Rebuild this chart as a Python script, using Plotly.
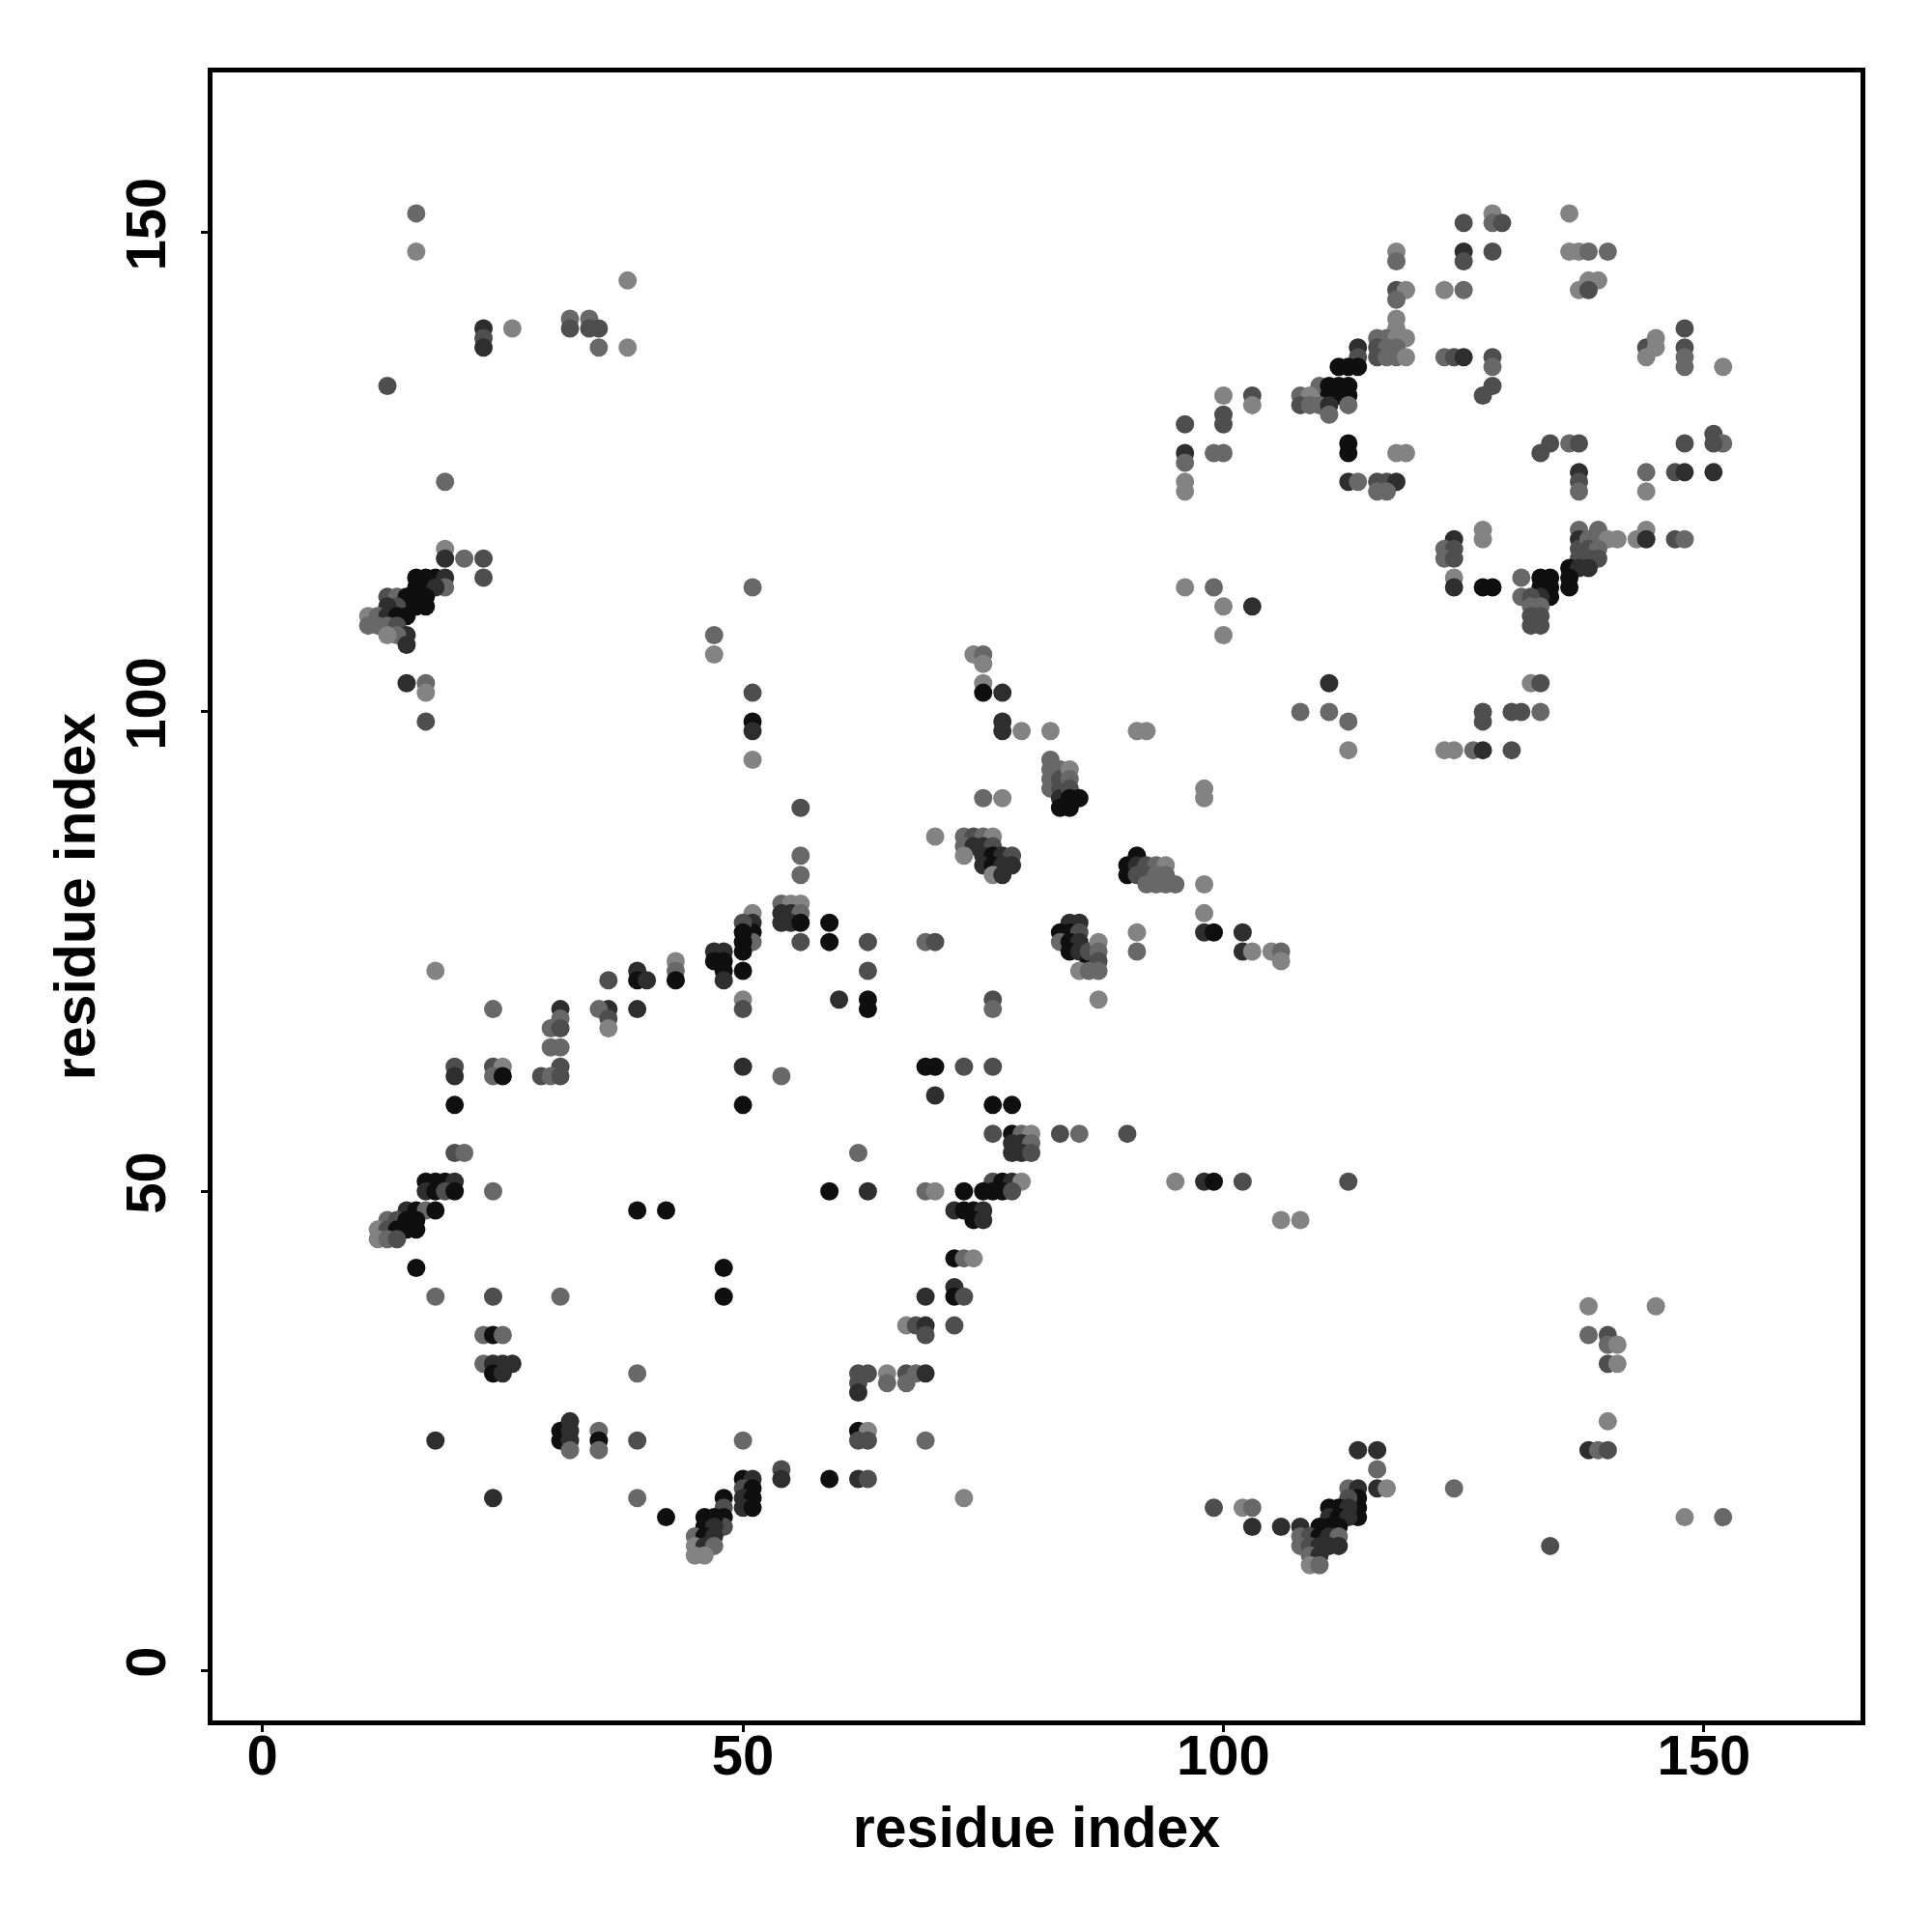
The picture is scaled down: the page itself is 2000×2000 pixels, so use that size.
import plotly.graph_objects as go

# contact points: residue i (x), residue j (y), and shade level
# level codes: k=black, d=dark, m=medium, g=gray, l=light
res_i = []
res_j = []
level = []

pts = """
16,152,g 16,148,l 38,145,l 23,140,d 23,139,m 23,138,d 26,140,l 32,141,g 32,140,m 34,141,g 34,140,m 35,140,m 35,138,g 38,138,l
13,134,m 19,124,g 19,117,l 19,116,d 21,116,g 23,116,m 23,114,m
16,114,k 17,114,k 18,114,k 19,114,d 19,113,g 16,113,k 17,113,k 18,113,d 13,112,m 14,112,g 15,112,k 16,112,k 17,112,k 17,111,k 15,111,k 16,111,k 14,111,m 13,111,d
11,110,l 12,110,g 13,110,d 14,110,k 15,110,k 11,109,g 12,109,g 13,109,g 14,109,m 15,108,d 14,108,g 13,108,l 15,107,d
15,103,d 17,103,g 17,102,l 17,99,m
47,108,g 47,106,l 51,113,g 51,102,m 51,99,k 51,98,d 51,95,l 56,90,m 56,85,g 56,83,g
54,80,g 55,80,l 56,80,l 54,79,d 55,79,d 56,79,g 54,78,d 55,78,d 56,78,k 56,76,m
51,79,l 51,78,d 51,77,k 51,76,g 50,78,m 50,77,k 50,76,k 50,75,k 50,73,k
47,75,d 48,75,d 47,74,k 48,74,k 48,73,k 48,72,d 43,74,l 43,73,g 43,72,k 39,73,d 39,72,k 40,72,d 36,72,m
50,70,l 50,69,m 36,69,d 35,69,g 36,68,m 36,67,l 39,69,d
31,69,d 31,68,g 30,67,g 31,67,m 30,65,g 31,65,g 31,63,m 29,62,m 30,62,g 31,62,m
24,69,g 18,73,l 20,63,m 20,62,d 20,59,k 24,63,m 25,63,l 24,62,g 25,62,k 50,63,d 50,59,k 54,62,g
20,54,m 21,54,g 17,51,k 18,51,k 19,51,k 20,51,d 17,50,d 18,50,k 19,50,m 20,50,k 24,50,g
15,48,d 16,48,k 17,48,g 18,48,k 13,47,g 14,47,m 15,47,k 16,47,k 12,46,l 13,46,m 14,46,k 15,46,k 16,46,k 12,45,l 13,45,g 14,45,m
16,42,k 18,39,g 24,39,m 31,39,g 39,48,k 42,48,k 48,42,k 48,39,k
23,35,g 24,35,k 25,35,g 23,32,g 24,32,d 25,32,d 26,32,d 24,31,k 25,31,d 39,31,g
18,24,d 24,18,d 31,25,k 31,24,k 32,26,d 32,25,d 32,24,d 32,23,g 35,25,g 35,24,k 35,23,g 39,24,m 50,24,g 39,18,g 42,16,k 54,21,m 54,20,d
50,20,k 51,20,d 50,19,m 51,19,k 50,18,d 51,18,k 50,17,d 51,17,k 48,18,k 48,17,m 48,16,k 48,15,m 46,16,k 47,16,k 46,15,k 47,15,d
45,14,g 46,14,k 47,14,d 45,13,l 46,13,d 47,13,g 45,12,l 46,12,l
76,56,m 78,56,k 79,56,g 80,56,l 83,56,m 85,56,g 90,56,m 78,55,d 79,55,d 80,55,g 78,54,d 79,54,d 80,54,m 62,54,g
76,51,m 77,51,k 78,51,d 79,51,l 59,50,k 63,50,d 69,50,g 70,50,l 73,50,k 75,50,k 76,50,k 77,50,k 78,50,m
72,48,d 73,48,k 74,48,k 75,48,d 74,47,k 75,47,d
95,51,l 98,51,d 99,51,k 102,51,m 106,47,l 108,47,l
72,43,k 73,43,g 74,43,l 72,40,d 72,39,k 73,39,m 69,39,d
67,36,l 68,36,m 69,36,d 72,36,m 69,35,m
62,31,m 63,31,m 65,31,l 67,31,m 68,31,g 69,31,d 62,30,m 65,30,g 67,30,g 62,29,d
62,25,k 63,25,l 62,24,m 63,24,m 69,24,g 59,20,k 62,20,d 63,20,m 73,18,l
99,17,m 102,17,l 103,17,g 103,15,d 106,15,d 108,15,d
74,106,l 75,106,g 75,105,l 75,103,l 75,102,k 77,102,d 77,99,d 77,98,d 79,98,l 82,98,l 91,98,l 92,98,l
82,95,g 82,94,g 82,93,g 82,92,g 83,94,g 83,93,m 83,92,m 83,91,d 83,90,k 84,94,l 84,93,g 84,92,m 84,91,k 84,90,k 85,91,k
75,91,g 77,91,l 70,87,l
73,87,g 74,87,m 75,87,g 76,87,l 73,86,g 74,86,d 75,86,d 76,86,m 73,85,l 75,85,d 76,85,k 77,85,d 78,85,m 75,84,d 76,84,k 77,84,d 78,84,d 76,83,l 77,83,d
91,85,k 90,84,k 90,83,k 91,84,d 92,84,m 93,84,g 94,84,l 91,83,m 92,83,m 93,83,g 94,83,g 92,82,g 93,82,g 94,82,g 95,82,g
98,92,l 98,91,l 98,82,l 98,79,l 98,77,d 99,77,k 102,77,d 102,75,d 103,75,l 105,75,l 106,75,g 106,74,l
84,78,d 85,78,d 83,77,k 84,77,k 85,77,m 83,76,g 84,76,k 85,76,d 84,75,k 85,75,d 86,74,k 86,75,m 87,76,l 87,75,g 87,74,m 85,73,l 86,73,g 87,73,g
91,77,l 91,75,g 87,70,l
59,78,k 59,76,k 63,76,m 63,73,m 60,70,d 63,70,k 63,69,k 69,76,g 70,76,m 76,70,m 76,69,g 69,63,k 70,63,k 73,63,m 76,63,m 70,60,d 76,59,k 78,59,k
100,133,l 103,133,m 103,132,l 96,130,m 100,131,m 100,130,m 96,127,d 96,126,g 99,127,g 100,127,g 96,124,l 96,123,l 96,113,l 99,113,g 100,111,l 103,111,d 100,108,l
125,151,m 128,152,l 128,151,g 129,151,m 136,152,l
118,148,l 118,147,g 125,148,d 125,147,m 128,148,m 136,148,l 137,148,l 138,148,g 140,148,g
138,145,l 139,145,l 137,144,l 138,144,m 118,144,m 119,144,l 118,143,g 123,144,l 125,144,g 118,141,l 118,140,l
116,139,g 117,139,g 118,139,l 119,139,l 116,138,m 117,138,g 118,138,g 116,137,m 117,137,g 118,137,g 119,137,l
114,138,d 114,137,m 112,136,k 113,136,k 114,136,k
110,134,g 111,134,k 112,134,k 113,134,k 108,133,g 109,133,l 111,133,k 112,133,k 113,133,k 108,132,m 109,132,g 110,132,g 111,132,d 113,132,g 111,131,g
123,137,g 124,137,m 125,137,d 128,137,m 128,136,g 128,134,m 127,133,m
144,138,m 145,139,l 144,137,l 145,138,l 148,140,m 148,138,m 148,137,g 148,136,g 152,136,l
113,128,k 113,127,k 118,127,l 119,127,l
113,124,d 114,124,g 116,124,m 117,124,m 118,124,d 116,123,g 117,123,g
134,128,m 133,127,m 136,128,g 137,128,m 137,125,d 137,124,m 137,123,g
144,125,g 144,123,l 147,125,m 148,125,d 151,125,d 148,128,m 151,129,m 152,128,g 151,128,m
127,119,l 127,118,l 124,118,d 123,117,g 124,117,m 123,116,g 124,116,m 124,114,l 124,113,d 127,113,k 128,113,k
137,119,g 137,118,d 137,117,m 137,116,m 139,119,g 138,118,g 139,118,g 140,118,l 141,118,l 138,117,m 139,117,g 138,116,m 139,116,m 143,118,l 144,119,l 144,118,d 147,118,m 148,118,g
136,115,k 137,115,d 138,115,d 136,114,k 136,113,k
131,114,g 133,114,k 134,114,k 133,113,k 134,113,k 134,112,k 133,112,d 131,112,g 132,112,m 132,111,g 133,111,g 132,110,m 133,110,m 132,109,m 133,109,m
111,103,d 108,100,g 111,100,g 113,99,g 113,96,l 132,103,l 133,103,m 127,100,m 127,99,m 130,100,m 131,100,m 133,100,g 123,96,l 124,96,l 126,96,g 127,96,d 130,96,m
113,51,m 138,38,l 145,38,l 138,35,g 140,35,m 140,34,g 141,34,l 140,32,m 141,32,l 140,26,l 138,23,d 139,23,g 140,23,m
114,23,d 116,23,d 116,21,g 116,19,d 117,19,l 124,19,g 113,19,g 114,19,d 114,18,k 114,17,k 114,16,k 113,18,m 111,17,k 112,17,k 113,17,d 111,16,d 112,16,k 113,16,d
110,15,k 111,15,k 112,15,k 108,14,g 109,14,m 110,14,k 111,14,d 112,14,g 108,13,g 109,13,m 110,13,d 111,13,d 112,13,d 109,12,g 110,12,d 109,11,l 110,11,g
134,13,m 148,16,l 152,16,g
"""
for tok in pts.split():
    a, b, c = tok.split(",")
    res_i.append(int(a))
    res_j.append(int(b))
    level.append(c)

# shade level -> contact strength
strength_of = {"k": 0.95, "d": 0.72, "m": 0.48, "g": 0.28, "l": 0.08}
strength = [strength_of[c] for c in level]

tick_vals = [0, 50, 100, 150]

fig = go.Figure(go.Scatter(
    x=res_i, y=res_j, mode="markers",
    marker=dict(size=19, color=strength, cmin=0, cmax=1,
                colorscale=[[0, "rgb(142,142,142)"], [1, "rgb(8,8,8)"]],
                line=dict(width=0)),
    hoverinfo="x+y",
))

font_family = "Liberation Sans, Arial, Helvetica, sans-serif"
axis_common = dict(
    tickvals=tick_vals, ticks="outside", ticklen=7, tickwidth=3, tickcolor="black",
    showline=True, linewidth=5, linecolor="black", mirror=True,
    showgrid=False, zeroline=False,
    tickfont=dict(family=font_family, size=58, color="black", weight="bold"),
)
title_font = dict(family=font_family, size=59, color="black", weight="bold")

fig.update_layout(
    width=2000, height=2000,
    margin=dict(l=212, r=82, t=67, b=227),
    plot_bgcolor="white", paper_bgcolor="white",
    showlegend=False,
    xaxis=dict(range=[-5.2, 166.3], ticklabelstandoff=-26, **axis_common,
               title=dict(text="residue index", standoff=25, font=title_font)),
    yaxis=dict(range=[-5.2, 166.7], tickangle=-90, ticklabelstandoff=14, **axis_common,
               title=dict(text="residue index", standoff=2, font=title_font)),
)

fig.write_html("out.html")
